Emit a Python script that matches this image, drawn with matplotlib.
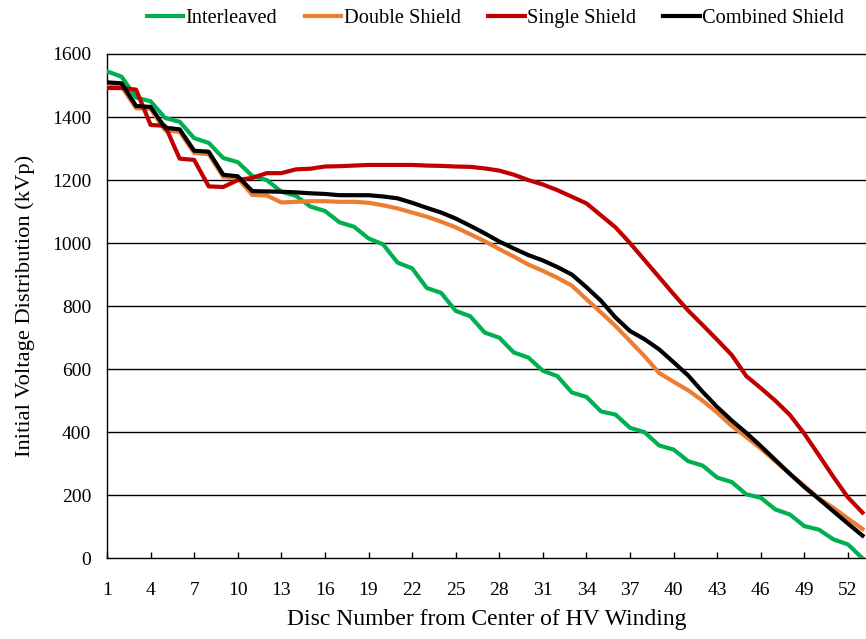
import numpy as np
import matplotlib
matplotlib.use('Agg')
import matplotlib.pyplot as plt

plt.rcParams['font.family'] = ['Liberation Serif', 'DejaVu Serif']

discs = list(range(1, 54))

interleaved = [1545, 1528, 1462, 1450, 1397, 1385, 1333, 1318, 1270, 1257,
               1213, 1200, 1163, 1150, 1116, 1102, 1066, 1052, 1015, 996,
               938, 920, 858, 842, 785, 768, 716, 700, 653, 637,
               595, 578, 526, 512, 466, 456, 414, 400, 358, 345,
               308, 294, 256, 242, 203, 192, 155, 139, 102, 91,
               60, 44, 0]

double_shield = [1497, 1497, 1428, 1426, 1358, 1353, 1286, 1282, 1210, 1206,
                 1153, 1151, 1129, 1131, 1133, 1133, 1131, 1131, 1128, 1120,
                 1110, 1097, 1084, 1068, 1050, 1028, 1006, 981, 957, 932,
                 912, 890, 865, 822, 780, 737, 689, 641, 588, 560,
                 533, 500, 462, 420, 385, 348, 308, 268, 230, 190,
                 160, 126, 93]

single_shield = [1492, 1492, 1487, 1375, 1372, 1268, 1264, 1180, 1178, 1200,
                 1207, 1222, 1222, 1234, 1236, 1243, 1244, 1246, 1248, 1248,
                 1248, 1248, 1246, 1245, 1243, 1242, 1237, 1230, 1217, 1200,
                 1186, 1168, 1147, 1126, 1088, 1050, 1000, 946, 892, 838,
                 786, 740, 693, 645, 578, 540, 500, 455, 395, 327,
                 258, 193, 145]

combined_shield = [1510, 1507, 1435, 1432, 1366, 1361, 1293, 1290, 1217, 1212,
                   1165, 1164, 1163, 1161, 1158, 1156, 1152, 1152, 1152, 1148,
                   1142, 1128, 1112, 1097, 1078, 1055, 1031, 1005, 983, 962,
                   945, 924, 900, 860, 817, 764, 721, 695, 663, 622,
                   580, 528, 480, 437, 398, 356, 312, 268, 226, 188,
                   149, 110, 72]

series = [
    ('Interleaved', interleaved, '#00B050'),
    ('Double Shield', double_shield, '#ED7D31'),
    ('Single Shield', single_shield, '#C00000'),
    ('Combined Shield', combined_shield, '#000000'),
]

fig = plt.figure(figsize=(8.66, 6.39), dpi=100)
ax = fig.add_axes([107 / 866, 1 - 558.3 / 639, 1 - 107 / 866, (558.3 - 54) / 639])

# gridlines
for yv in range(200, 1601, 200):
    ax.axhline(yv, color='black', linewidth=1.0, zorder=1, clip_on=False)

for name, vals, col in series:
    ax.plot(discs, vals, color=col, linewidth=3.0, label=name, zorder=3,
            solid_joinstyle='round')

ax.set_xlim(1, 53.24)
ax.set_ylim(0, 1600)
ax.set_xticks(range(1, 53, 3))
ax.set_yticks(range(0, 1601, 200))

ax.spines['top'].set_visible(False)
ax.spines['right'].set_visible(False)
ax.spines['left'].set_linewidth(1.0)
ax.spines['bottom'].set_linewidth(1.0)

ax.tick_params(axis='x', direction='in', length=4, width=1.0, pad=17, labelsize=14)
ax.tick_params(axis='y', length=0, pad=11.5, labelsize=14)

ax.set_xlabel('Disc Number from Center of HV Winding', fontsize=17, labelpad=7)
ax.set_ylabel('Initial Voltage Distribution (kVp)', fontsize=16.2, labelpad=12)

fig.legend(loc='center', bbox_to_anchor=(0.572, 1 - 18 / 639), ncol=4,
           frameon=False, fontsize=14.7, handlelength=1.8, handletextpad=0.1,
           columnspacing=1.35)

fig.savefig('out.png', dpi=100)
